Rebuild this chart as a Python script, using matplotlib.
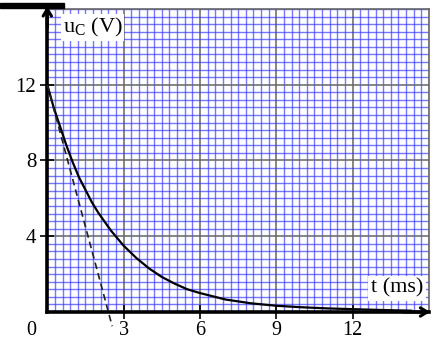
import matplotlib
matplotlib.use("Agg")
import matplotlib.pyplot as plt
from matplotlib.ticker import MultipleLocator
from matplotlib.patches import Rectangle

# discharge curve (t in ms, uC in V)
t_ms = [0, 0.25, 0.5, 0.75, 1.0, 1.25, 1.5, 1.75, 2.0, 2.5, 3.0, 3.5, 4.0, 4.5,
        5.0, 5.5, 6.0, 7.0, 8.0, 9.0, 10.0, 11.0, 12.0, 13.0, 14.3]
u_c = [12.0, 10.8, 9.8, 8.8, 7.9, 7.1, 6.45, 5.8, 5.25, 4.3, 3.5, 2.85, 2.3, 1.85,
       1.5, 1.2, 1.0, 0.66, 0.46, 0.33, 0.25, 0.19, 0.15, 0.11, 0.07]

# tangent at the origin (dashed)
t_tan = [0, 2.55]
u_tan = [12, -0.75]

x_ticks = [3, 6, 9, 12]
y_ticks = [4, 8, 12]

plt.rcParams['font.family'] = ['Liberation Serif', 'DejaVu Serif']
plt.rcParams['mathtext.fontset'] = 'custom'
plt.rcParams['mathtext.rm'] = 'Liberation Serif'

fig = plt.figure(figsize=(4.35, 3.4), dpi=100)
ax = fig.add_axes([47.3 / 435, 28 / 340, 381.7 / 435, 303 / 340])
ax.set_xlim(0, 15)
ax.set_ylim(0, 16)

# millimetre paper grid
ax.xaxis.set_minor_locator(MultipleLocator(0.3))
ax.yaxis.set_minor_locator(MultipleLocator(0.4))
ax.grid(which='minor', color='#3030ff', alpha=0.65, lw=1.0)
ax.grid(which='major', color='#666666', lw=1.1)
ax.set_axisbelow(True)

ax.set_xticks(x_ticks)
ax.set_yticks(y_ticks)
ax.set_xticklabels([str(v) for v in x_ticks])
ax.set_yticklabels([str(v) for v in y_ticks])
ax.tick_params(which='minor', length=0)
ax.tick_params(which='major', direction='inout', length=10, width=1.2,
               labelsize=15, color='black')
ax.tick_params(axis='x', pad=1.5, labelsize=14.5)
ax.tick_params(axis='y', pad=3)

for side in ['left', 'bottom']:
    ax.spines[side].set_linewidth(2.6)
    ax.spines[side].set_color('black')
for side in ['right', 'top']:
    ax.spines[side].set_linewidth(1.2)
    ax.spines[side].set_color('#666666')

ax.plot(t_ms, u_c, color='black', lw=1.6, zorder=3)
ax.plot(t_tan, u_tan, color='#222222', lw=1.2, ls=(0, (4, 2.5)), zorder=3, clip_on=False)

# axis arrows
ax.annotate('', xy=(0, 16.15), xytext=(0, 15.0), annotation_clip=False,
            arrowprops=dict(arrowstyle='->, head_length=0.5, head_width=0.3',
                            lw=2.2, color='black', shrinkA=0, shrinkB=0))
ax.annotate('', xy=(15.05, 0), xytext=(14.0, 0), annotation_clip=False,
            arrowprops=dict(arrowstyle='->, head_length=0.5, head_width=0.3',
                            lw=2.2, color='black', shrinkA=0, shrinkB=0))

ax.text(-0.62, -0.5, '0', fontsize=14.5, ha='center', va='top', clip_on=False)

ax.text(0.6, 15.0, r'u$_\mathrm{C}$ (V)', fontsize=16, ha='left', va='center',
        bbox=dict(facecolor='white', edgecolor='none', pad=1.5), zorder=4)
ax.text(13.75, 1.25, 't (ms)', fontsize=16, ha='center', va='center',
        bbox=dict(facecolor='white', edgecolor='none', pad=2.0), zorder=4)

# black bar cut off at the top-left corner
fig.add_artist(Rectangle((0, 1 - 8 / 340), 64 / 435, 5 / 340,
                         transform=fig.transFigure, color='black'))

fig.savefig('out.png', dpi=100)
